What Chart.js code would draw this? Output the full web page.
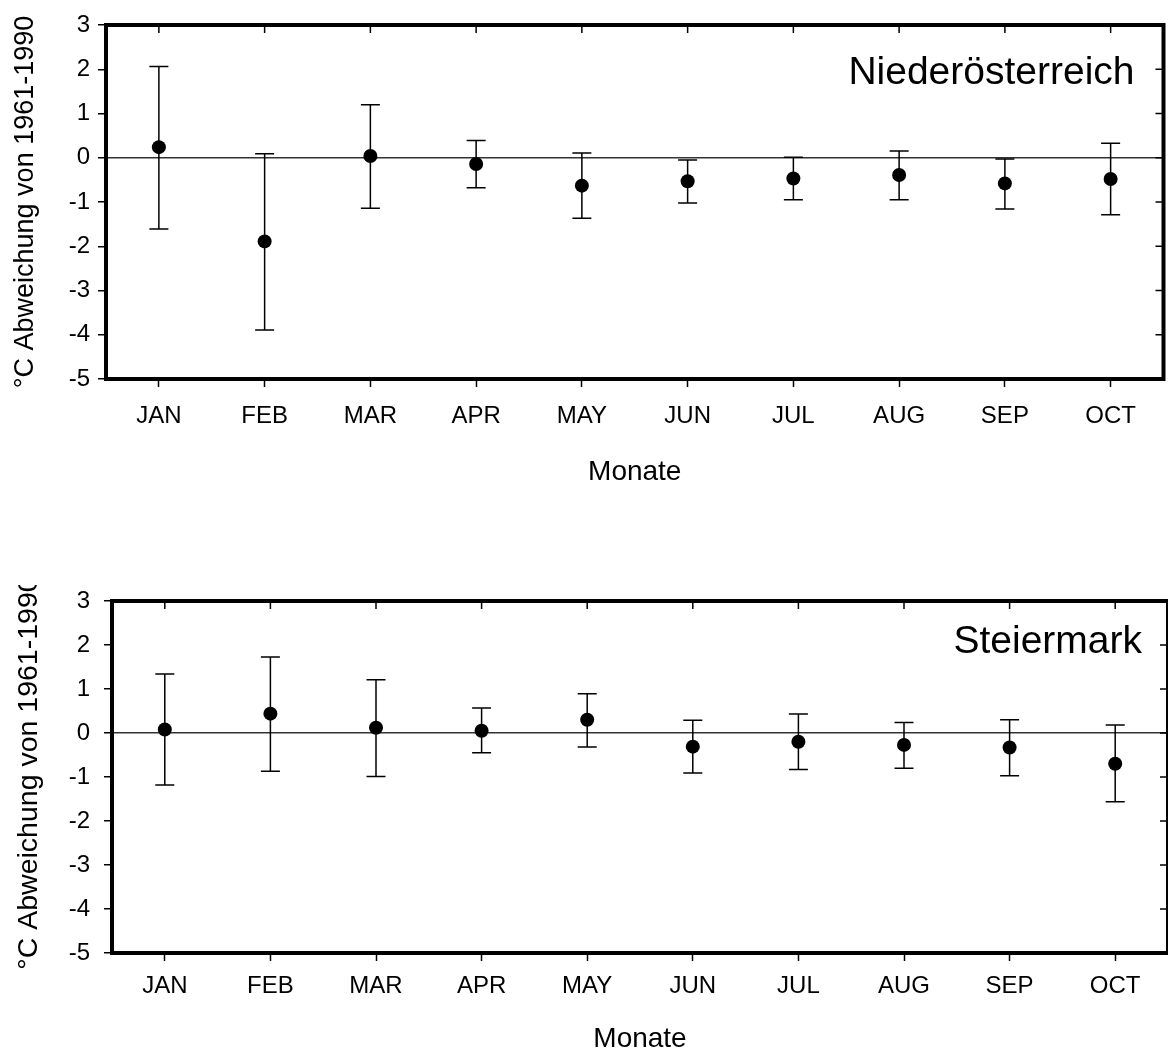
<!DOCTYPE html>
<html>
<head>
<meta charset="utf-8">
<title>Temperaturabweichung</title>
<script src="https://cdn.jsdelivr.net/npm/chart.js@4.4.1/dist/chart.umd.min.js"></script>
<style>
    body { margin: 0; background: #fff; }
    .panel { position: absolute; left: 0; }
</style>
</head>
<body>
<canvas id="chartNoe" class="panel" width="1168" height="520" style="top:0"></canvas>
<canvas id="chartStmk" class="panel" width="1168" height="468" style="top:585px"></canvas>
<script>
// Monate
const months = ['JAN', 'FEB', 'MAR', 'APR', 'MAY', 'JUN', 'JUL', 'AUG', 'SEP', 'OCT'];

// Y-Achse
const yMin = -5;
const yMax = 3;
const yStep = 1;

// Niederösterreich: Mittelwert, obere und untere Fehlergrenze
const noeMean  = [0.24, -1.89, 0.04, -0.14, -0.63, -0.53, -0.47, -0.39, -0.58, -0.48];
const noeUpper = [2.06, 0.09, 1.20, 0.39, 0.11, -0.05, 0.01, 0.15, -0.03, 0.33];
const noeLower = [-1.61, -3.89, -1.14, -0.68, -1.37, -1.02, -0.95, -0.95, -1.16, -1.29];

// Steiermark
const stmkMean  = [0.08, 0.44, 0.12, 0.05, 0.30, -0.31, -0.20, -0.27, -0.33, -0.70];
const stmkUpper = [1.34, 1.73, 1.21, 0.57, 0.89, 0.29, 0.43, 0.24, 0.30, 0.18];
const stmkLower = [-1.18, -0.87, -0.99, -0.45, -0.32, -0.91, -0.83, -0.80, -0.97, -1.56];

const FONT = '"Liberation Sans", Arial, Helvetica, sans-serif';
const TICK_LEN = 8;

// Fehlerbalken, Rahmen, Innen-Ticks und Regionsname
const panelPlugin = {
    id: 'panel',
    beforeDatasetsDraw(chart, args, opts) {
        const ctx = chart.ctx;
        const x = chart.scales.x;
        const y = chart.scales.y;
        const cap = 9.5;
        ctx.save();
        ctx.strokeStyle = '#000';
        ctx.lineWidth = 1.5;
        opts.upper.forEach((hi, i) => {
            const px = x.getPixelForValue(i);
            const yHi = y.getPixelForValue(hi);
            const yLo = y.getPixelForValue(opts.lower[i]);
            ctx.beginPath();
            ctx.moveTo(px, yHi);
            ctx.lineTo(px, yLo);
            ctx.moveTo(px - cap, yHi);
            ctx.lineTo(px + cap, yHi);
            ctx.moveTo(px - cap, yLo);
            ctx.lineTo(px + cap, yLo);
            ctx.stroke();
        });
        ctx.restore();
    },
    afterDraw(chart, args, opts) {
        const ctx = chart.ctx;
        const area = chart.chartArea;
        const x = chart.scales.x;
        const y = chart.scales.y;
        ctx.save();
        ctx.strokeStyle = '#000';

        // Ticks innen: oben und rechts
        ctx.lineWidth = 1.5;
        ctx.beginPath();
        x.ticks.forEach((t, i) => {
            const px = x.getPixelForValue(i);
            ctx.moveTo(px, area.top);
            ctx.lineTo(px, area.top + TICK_LEN);
        });
        y.ticks.forEach(t => {
            const py = y.getPixelForValue(t.value);
            ctx.moveTo(area.right, py);
            ctx.lineTo(area.right - TICK_LEN, py);
        });
        ctx.stroke();

        // Rahmen
        ctx.lineWidth = 4;
        ctx.strokeRect(area.left, area.top, area.right - area.left, area.bottom - area.top);

        // Regionsname
        ctx.fillStyle = '#000';
        ctx.font = '39px ' + FONT;
        ctx.textAlign = 'right';
        ctx.textBaseline = 'alphabetic';
        ctx.fillText(opts.label, area.right - opts.labelRight, area.top + opts.labelBaseline);
        ctx.restore();
    }
};

function makeChart(canvasId, cfg) {
    const ctx = document.getElementById(canvasId).getContext('2d');
    return new Chart(ctx, {
        type: 'line',
        data: {
            labels: months,
            datasets: [{
                data: cfg.mean,
                showLine: false,
                pointRadius: 7,
                pointHoverRadius: 7,
                pointBackgroundColor: '#000',
                pointBorderWidth: 0
            }]
        },
        options: {
            responsive: false,
            animation: false,
            devicePixelRatio: 1,
            layout: {
                autoPadding: false,
                padding: { top: cfg.top, right: cfg.right, left: 0, bottom: 0 }
            },
            scales: {
                x: {
                    type: 'category',
                    offset: true,
                    border: { display: false },
                    grid: {
                        offset: false,
                        drawOnChartArea: false,
                        drawTicks: true,
                        tickLength: TICK_LEN,
                        tickColor: '#000',
                        tickWidth: 1.5
                    },
                    ticks: {
                        color: '#000',
                        padding: cfg.xPad,
                        maxRotation: 0,
                        autoSkip: false,
                        font: { family: FONT, size: 24 }
                    },
                    title: {
                        display: true,
                        text: 'Monate',
                        color: '#000',
                        padding: { top: 0, bottom: cfg.xTitlePad },
                        font: { family: FONT, size: 28 }
                    },
                    afterFit(scale) {
                        scale.height = cfg.xHeight;
                        scale.paddingLeft = 0;
                        scale.paddingRight = 0;
                    }
                },
                y: {
                    min: yMin,
                    max: yMax,
                    border: { display: false },
                    grid: {
                        drawOnChartArea: true,
                        drawTicks: true,
                        tickLength: TICK_LEN,
                        tickColor: '#000',
                        tickWidth: 1.5,
                        lineWidth: 1.5,
                        // nur die Nulllinie im Diagramm
                        color: c => (c.tick && c.tick.value === 0) ? '#333' : 'rgba(0,0,0,0)'
                    },
                    ticks: {
                        stepSize: yStep,
                        color: '#000',
                        padding: cfg.yPad,
                        font: { family: FONT, size: 24 }
                    },
                    title: {
                        display: true,
                        text: cfg.yTitle,
                        color: '#000',
                        padding: { top: cfg.yTitlePad, bottom: 0 },
                        font: { family: FONT, size: cfg.yTitleSize }
                    },
                    afterFit(scale) {
                        scale.width = cfg.yWidth;
                        scale.paddingTop = 0;
                        scale.paddingBottom = 0;
                    }
                }
            },
            plugins: {
                legend: { display: false },
                tooltip: { enabled: false },
                panel: {
                    label: cfg.label,
                    upper: cfg.upper,
                    lower: cfg.lower,
                    labelRight: cfg.labelRight,
                    labelBaseline: cfg.labelBaseline
                }
            }
        },
        plugins: [panelPlugin]
    });
}

makeChart('chartNoe', {
    mean: noeMean, upper: noeUpper, lower: noeLower,
    label: 'Niederösterreich',
    yTitle: '°C Abweichung von 1961-1990',
    yTitleSize: 27,
    top: 25, right: 4.5,
    yWidth: 106, yPad: 8, yTitlePad: 9,
    xHeight: 141, xPad: 15, xTitlePad: 31,
    labelRight: 29, labelBaseline: 59
});

// der Achsentitel ist hier oben abgeschnitten
makeChart('chartStmk', {
    mean: stmkMean, upper: stmkUpper, lower: stmkLower,
    label: 'Steiermark',
    yTitle: ' °C Abweichung von 1961-1990',
    yTitleSize: 28.5,
    top: 16, right: -1,
    yWidth: 112, yPad: 14, yTitlePad: 12,
    xHeight: 100, xPad: 10.5, xTitlePad: -3,
    labelRight: 26, labelBaseline: 52
});
</script>
</body>
</html>
